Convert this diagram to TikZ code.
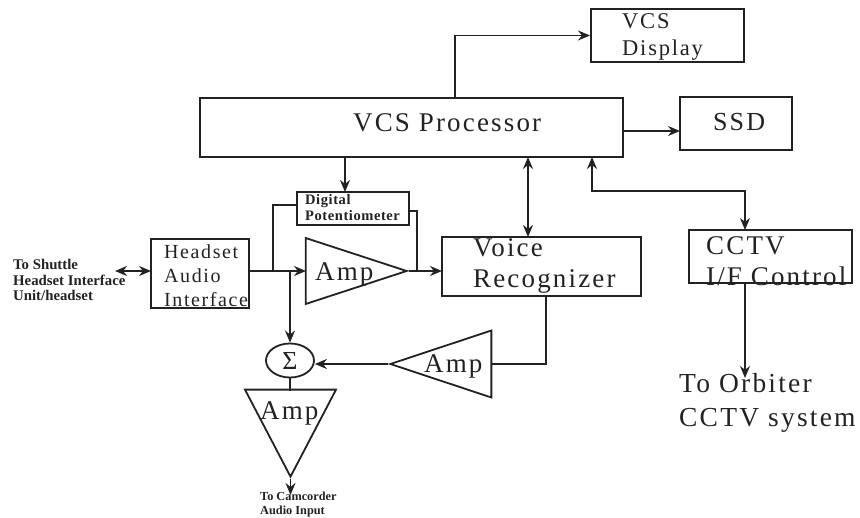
\documentclass[tikz,border=0pt]{standalone}
\usepackage{fontspec}
\setmainfont{Liberation Serif}
\newfontfamily\spaced[LetterSpace=8]{Liberation Serif}
\newfontfamily\spacedb[LetterSpace=4]{Liberation Serif}
\usetikzlibrary{shapes.geometric,arrows.meta}
\definecolor{ink}{HTML}{222222}
\tikzset{
  wire/.style={draw=ink,line width=1.8pt},
  arr/.style={wire,-{Stealth[length=12pt,width=10pt]}},
  darr/.style={wire,{Stealth[length=12pt,width=10pt]}-{Stealth[length=12pt,width=10pt]}},
  blockbox/.style={draw=ink,line width=2pt,inner sep=0pt},
  amptri/.style={isosceles triangle,isosceles triangle stretches,draw=ink,line width=1.8pt,inner sep=0pt,anchor=apex},
  lab/.style={text=ink,inner sep=0pt,align=left,anchor=west},
  big/.style={lab,font=\spaced\fontsize{27}{31}\selectfont},
  mid/.style={lab,font=\spaced\fontsize{22.5}{27}\selectfont},
  tiny/.style={lab,font=\bfseries\fontsize{14.8}{15.5}\selectfont},
}
\begin{document}
\begin{tikzpicture}[x=1pt,y=-1pt]
\useasboundingbox (0,0) rectangle (860,518);
% boxes
\node[blockbox,minimum width=153pt,minimum height=53pt] (disp) at (667.5,35.5) {};
\node[blockbox,minimum width=112pt,minimum height=53pt] (ssd) at (736,123.5) {};
\node[blockbox,minimum width=423pt,minimum height=59pt] (proc) at (411.5,127.5) {};
\node[blockbox,minimum width=112pt,minimum height=33pt] (pot) at (353,208.5) {};
\node[blockbox,minimum width=98pt,minimum height=69pt] (head) at (200,273.5) {};
\node[blockbox,minimum width=199pt,minimum height=59pt] (voice) at (541.5,266.5) {};
\node[blockbox,minimum width=163pt,minimum height=53pt] (cctv) at (770.5,256.5) {};
\node[ellipse,draw=ink,line width=1.8pt,minimum width=48pt,minimum height=34pt,inner sep=0pt] (sum) at (290,360.5) {};
% amplifiers
\node[amptri,minimum width=66pt,minimum height=101pt] (amp1) at (409,271) {};
\node[amptri,minimum width=67pt,minimum height=101pt,shape border rotate=180] (amp2) at (388,364) {};
\node[amptri,minimum width=91pt,minimum height=87pt,shape border rotate=270] (amp3) at (290.5,479) {};
% labels
\node[mid] (tdisp) at (622,37) {VCS\\Display};
\node[lab,font=\spaced\fontsize{26}{30}\selectfont] (tssd) at (713,122) {SSD};
\node[big] (tproc) at (353,123) {VCS Processor};
\node[lab,font=\spacedb\bfseries\fontsize{14.5}{16}\selectfont] (tpot) at (305,208) {Digital\\Potentiometer};
\node[lab,font=\spaced\fontsize{20}{24}\selectfont] (thead) at (164,276) {Headset\\Audio\\Interface};
\node[big] (tvoice) at (473,266) {Voice\\Recognizer};
\node[big] (tcctv) at (706,261) {CCTV\\I/F Control};
\node[lab,font=\spaced\fontsize{27.5}{34}\selectfont] (torb) at (679,403) {To Orbiter\\CCTV system};
\node[big] (ta1) at (315,274) {Amp};
\node[big] (ta2) at (424,366) {Amp};
\node[big] (ta3) at (260,413) {Amp};
\node[font=\fontsize{26}{26}\selectfont,text=ink,inner sep=0pt] (tsum) at (290,361) {Σ};
\node[tiny] (tshut) at (13,280) {To Shuttle\\Headset Interface\\Unit/headset};
\node[tiny,font=\bfseries\fontsize{12.3}{14}\selectfont] (tcam) at (260,505) {To Camcorder\\Audio Input};
% free-end and junction points
\coordinate (pdisp) at (455,98);
\coordinate (pssd) at (623,131);
\coordinate (ssdin) at (680,131);
\coordinate (ppot) at (345,157);
\coordinate (potin) at (345,192);
\coordinate (j1) at (273,271);
\coordinate (j2) at (290,271);
\coordinate (j3) at (417,271);
\coordinate (potl) at (297,205);
\coordinate (potr) at (409,211);
\coordinate (heado) at (249,271);
\coordinate (ampin) at (306,271);
\coordinate (voicein) at (442,271);
\coordinate (shut) at (115,271);
\coordinate (headin) at (151,271);
\coordinate (pv) at (528,157);
\coordinate (vp) at (528,237);
\coordinate (pc) at (592,157);
\coordinate (cp) at (745,230);
\coordinate (co) at (745,283);
\coordinate (orb) at (745,378);
\coordinate (vo) at (546,296);
\coordinate (a2in) at (491,364);
\coordinate (camo) at (290.5,495);
% connectors
\draw[arr] (pdisp) |- (disp.west);
\draw[arr] (pssd) -- (ssdin);
\draw[arr] (ppot) -- (potin);
\draw[wire] (j1) |- (potl);
\draw[wire] (potr) -| (j3);
\draw[arr] (heado) -- (ampin);
\draw[arr] (amp1.apex) -- (voicein);
\draw[darr] (shut) -- (headin);
\draw[arr] (j2) -- (sum.north);
\draw[darr] (pc) |- (cp |- 0,191) -- (cp);
\draw[darr] (pv) -- (vp);
\draw[arr] (co) -- (orb);
\draw[wire] (vo) |- (a2in);
\draw[arr] (amp2.apex) -- (amp2.apex -| sum.east);
\draw[wire] (sum.south) -- (sum.south |- 0,391);
\draw[arr] (amp3.apex) -- (camo);
\end{tikzpicture}
\end{document}
